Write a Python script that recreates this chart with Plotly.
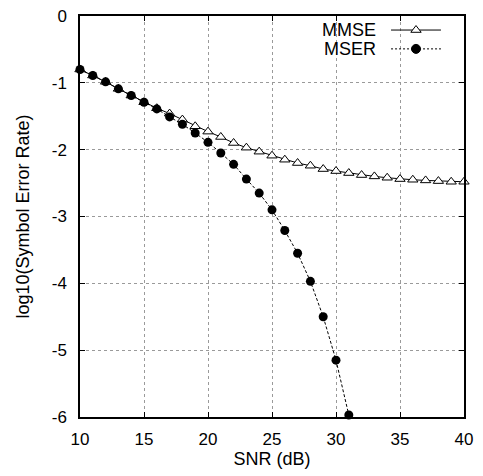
import plotly.graph_objects as go

snr_mmse = list(range(10, 41))
ser_mmse = [-0.80, -0.89, -0.985, -1.09, -1.19, -1.29, -1.38, -1.46, -1.55, -1.65,
            -1.73, -1.81, -1.90, -1.97, -2.03, -2.09, -2.15, -2.20, -2.24, -2.29,
            -2.32, -2.35, -2.38, -2.40, -2.42, -2.44, -2.45, -2.46, -2.47, -2.48, -2.48]

snr_mser = list(range(10, 32))
ser_mser = [-0.80, -0.89, -0.985, -1.09, -1.19, -1.29, -1.39, -1.51, -1.62, -1.75,
            -1.89, -2.05, -2.22, -2.44, -2.65, -2.90, -3.21, -3.55, -3.97, -4.50,
            -5.15, -5.97]

x_ticks = [10, 15, 20, 25, 30, 35, 40]
y_ticks = [0, -1, -2, -3, -4, -5, -6]
y_tick_labels = ["0", "-1", "-2", "-3", "-4", "-5", "-6"]
legend_names = ["MMSE", "MSER"]

FONT = "Liberation Sans, Arial, Helvetica, sans-serif"
FS = 17
FT = 18

fig = go.Figure()
fig.add_trace(go.Scatter(
    x=snr_mmse, y=ser_mmse, mode="lines+markers", name=legend_names[0],
    line=dict(color="black", width=1),
    marker=dict(symbol="triangle-up", size=9, color="white",
                line=dict(color="black", width=1)),
    cliponaxis=False, showlegend=False))
fig.add_trace(go.Scatter(
    x=snr_mser, y=ser_mser, mode="lines+markers", name=legend_names[1],
    line=dict(color="black", width=1, dash="3px,2px"),
    marker=dict(symbol="circle", size=9, color="black"),
    cliponaxis=False, showlegend=False))

# custom legend keys (text left, sample right) on an overlay axis
key_y = [0.965, 0.918]
key_styles = [
    (dict(color="black", width=1),
     dict(symbol="triangle-up", color="white", line=dict(color="black", width=1))),
    (dict(color="black", width=1, dash="2px,2px"),
     dict(symbol="circle", color="black", line=dict(color="black", width=1))),
]
for name, ky, (ln, mk) in zip(legend_names, key_y, key_styles):
    fig.add_trace(go.Scatter(
        x=[0.81, 0.94], y=[ky, ky], mode="lines", line=ln,
        xaxis="x2", yaxis="y2", showlegend=False, hoverinfo="skip"))
    fig.add_trace(go.Scatter(
        x=[0.875], y=[ky], mode="markers", marker=dict(size=9, **mk),
        xaxis="x2", yaxis="y2", showlegend=False, hoverinfo="skip"))
    fig.add_annotation(x=0.776, y=ky, xref="paper", yref="paper", text=name,
                       showarrow=False, xanchor="right", yanchor="middle",
                       font=dict(family=FONT, size=FT, color="black"))

axis_common = dict(
    showline=True, linecolor="black", linewidth=1.5, mirror="allticks",
    ticks="inside", ticklen=5, tickcolor="black", automargin=False,
    ticklabeloverflow="allow",
    showgrid=True, gridcolor="#9a9a9a", griddash="dot", gridwidth=1,
    zeroline=False, tickfont=dict(family=FONT, size=FS, color="black"),
)
fig.update_layout(
    width=475, height=468,
    margin=dict(l=72, r=19, t=8, b=59),
    paper_bgcolor="white", plot_bgcolor="white",
    font=dict(family=FONT, size=FS, color="black"),
    xaxis=dict(range=[10, 40], tickvals=x_ticks, ticklabelstandoff=6,
               title=dict(text="SNR (dB)", standoff=1, font=dict(family=FONT, size=FT)),
               **axis_common),
    yaxis=dict(range=[-6, 0], tickvals=y_ticks, ticktext=y_tick_labels, ticklabelstandoff=8,
               title=dict(text="log10(Symbol Error Rate)", standoff=17,
                          font=dict(family=FONT, size=FT)),
               **axis_common),
    xaxis2=dict(overlaying="x", range=[0, 1], visible=False),
    yaxis2=dict(overlaying="y", range=[0, 1], visible=False),
)
fig.write_html("out.html")
